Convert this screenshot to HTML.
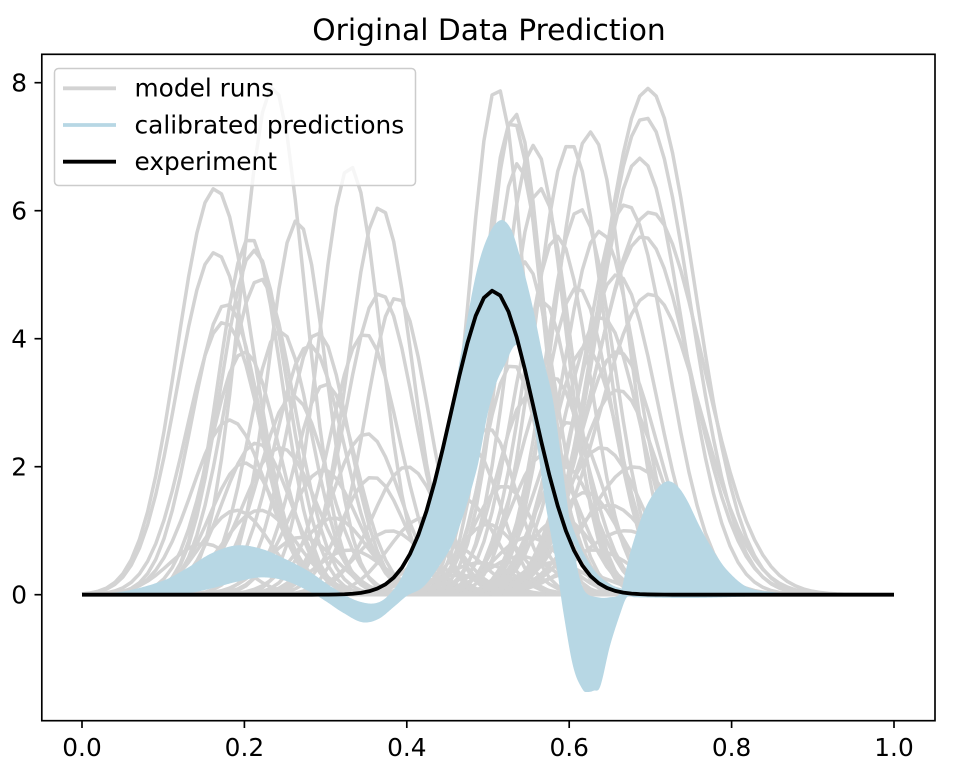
<!DOCTYPE html>
<html><head><meta charset="utf-8">
<style>
html,body{margin:0;padding:0;background:#fff;}
svg{display:block;}
text{font-family:"DejaVu Sans","Liberation Sans",sans-serif;fill:#000;}
</style></head><body>
<svg id="s" width="967" height="769" viewBox="0 0 967 769" xmlns="http://www.w3.org/2000/svg">
<rect width="967" height="769" fill="#fff"/>
<g id="gray" fill="none" stroke="#d3d3d3" stroke-width="3.5" stroke-linejoin="round"></g>
<path id="band" fill="#b7d7e4" stroke="none"/>
<path id="strip" fill="none" stroke="#b7d7e4" stroke-width="4.5" stroke-linejoin="round"/>
<path id="exp" fill="none" stroke="#000" stroke-width="3.8" stroke-linejoin="round"/>

<!-- spines -->
<rect x="41.8" y="54.3" width="893.2" height="666.4" fill="none" stroke="#000" stroke-width="1.67"/>
<!-- ticks -->
<g stroke="#000" stroke-width="1.67">
<line x1="82" y1="720.7" x2="82" y2="728"/>
<line x1="244.4" y1="720.7" x2="244.4" y2="728"/>
<line x1="406.8" y1="720.7" x2="406.8" y2="728"/>
<line x1="569.2" y1="720.7" x2="569.2" y2="728"/>
<line x1="731.6" y1="720.7" x2="731.6" y2="728"/>
<line x1="894" y1="720.7" x2="894" y2="728"/>
<line x1="34.5" y1="594.7" x2="41.8" y2="594.7"/>
<line x1="34.5" y1="466.7" x2="41.8" y2="466.7"/>
<line x1="34.5" y1="338.7" x2="41.8" y2="338.7"/>
<line x1="34.5" y1="210.7" x2="41.8" y2="210.7"/>
<line x1="34.5" y1="82.7" x2="41.8" y2="82.7"/>
</g>
<g font-size="24.8" text-anchor="middle">
<text x="82" y="756">0.0</text>
<text x="244.4" y="756">0.2</text>
<text x="406.8" y="756">0.4</text>
<text x="569.2" y="756">0.6</text>
<text x="731.6" y="756">0.8</text>
<text x="894" y="756">1.0</text>
</g>
<g font-size="24.8" text-anchor="end">
<text x="27" y="603.5">0</text>
<text x="27" y="475.5">2</text>
<text x="27" y="347.5">4</text>
<text x="27" y="219.5">6</text>
<text x="27" y="91.5">8</text>
</g>
<text x="489" y="40" font-size="29.7" text-anchor="middle">Original Data Prediction</text>

<!-- legend -->
<rect x="54.5" y="68.5" width="361" height="117" rx="4" ry="4" fill="#fff" fill-opacity="0.8" stroke="#cccccc" stroke-width="1.5"/>
<line x1="63" y1="88.3" x2="116" y2="88.3" stroke="#d3d3d3" stroke-width="3.8"/>
<line x1="63" y1="125" x2="116" y2="125" stroke="#b7d7e4" stroke-width="3.8"/>
<line x1="63" y1="161.7" x2="116" y2="161.7" stroke="#000" stroke-width="3.8"/>
<g font-size="24.8">
<text x="134.5" y="96.7">model runs</text>
<text x="134.5" y="133.4">calibrated predictions</text>
<text x="134.5" y="170.2">experiment</text>
</g>
</svg>
<script>
(function(){
var X=function(x){return 82+812*x;}, Y=function(v){return 594.7-64*v;};
var ns='http://www.w3.org/2000/svg';
var G=[
[0.164,6.35,0.066],[0.164,5.35,0.066],[0.235,7.95,0.055],[0.33,6.7,0.053],[0.367,6.06,0.055],
[0.207,5.58,0.055],[0.212,5.38,0.058],[0.265,5.85,0.05],[0.219,4.94,0.06],[0.178,4.55,0.06],
[0.175,4.26,0.065],[0.367,4.71,0.06],[0.388,4.65,0.055],[0.348,4.08,0.06],[0.244,4.13,0.055],
[0.28,3.9,0.06],[0.182,2.73,0.065],[0.215,2.37,0.06],[0.244,2.3,0.065],[0.297,1.95,0.06],
[0.358,1.84,0.055],[0.35,2.52,0.06],[0.2,2.06,0.06],[0.19,1.32,0.06],[0.219,1.32,0.065],
[0.26,3.1,0.06],[0.3,3.3,0.055],[0.31,1.2,0.06],[0.27,0.9,0.06],[0.33,0.7,0.06],
[0.38,1.0,0.06],[0.15,0.8,0.06],[0.29,4.1,0.055],[0.2,3.8,0.06],
[0.511,7.93,0.048],[0.533,7.52,0.05],[0.53,7.41,0.052],[0.556,7.02,0.055],[0.537,6.74,0.05],
[0.601,7.05,0.06],[0.626,7.23,0.062],[0.697,7.91,0.082],[0.693,7.46,0.08],[0.687,6.82,0.075],
[0.70,5.98,0.092],[0.564,6.35,0.055],[0.613,6.03,0.06],[0.638,5.68,0.065],[0.691,5.6,0.085],
[0.567,4.6,0.055],[0.70,4.7,0.088],[0.659,5.0,0.07],[0.64,4.34,0.068],[0.62,3.87,0.06],
[0.64,2.3,0.07],[0.53,3.6,0.05],[0.55,3.1,0.055],[0.58,3.4,0.06],[0.6,2.7,0.06],
[0.66,3.2,0.072],[0.68,2.0,0.08],[0.57,2.2,0.06],[0.62,1.6,0.06],[0.47,1.5,0.055],
[0.48,2.3,0.05],[0.5,1.1,0.055],[0.52,1.7,0.055],[0.45,0.8,0.06],[0.55,0.9,0.06],
[0.59,1.2,0.06],[0.63,0.7,0.07],[0.67,1.0,0.08],[0.44,0.4,0.06],[0.49,0.5,0.06],
[0.58,0.5,0.06],[0.61,4.8,0.06],[0.585,5.6,0.058],[0.67,6.1,0.072],[0.545,5.2,0.055],
[0.66,3.8,0.07],[0.595,2.0,0.055],[0.42,1.2,0.06],[0.4,2.0,0.06],[0.46,0.3,0.06],
[0.54,0.6,0.06],[0.61,0.35,0.06],[0.5,2.6,0.05],[0.65,1.4,0.07]
];
var N=100, g=document.getElementById('gray');
G.forEach(function(p){
  var d='';
  for(var i=0;i<N;i++){var x=i/(N-1);var v=p[1]*Math.exp(-Math.pow((x-p[0])/p[2],2));
    d+=(i?'L':'M')+X(x).toFixed(2)+','+Y(v).toFixed(2);}
  var e=document.createElementNS(ns,'path');e.setAttribute('d',d);g.appendChild(e);
});
function interp(P,x){
  var n=P.length; if(x<=P[0][0])return P[0][1]; if(x>=P[n-1][0])return P[n-1][1];
  var i=0; while(P[i+1][0]<x)i++;
  function m(k){
    if(k==0) return (P[1][1]-P[0][1])/(P[1][0]-P[0][0]);
    if(k==n-1) return (P[n-1][1]-P[n-2][1])/(P[n-1][0]-P[n-2][0]);
    return (P[k+1][1]-P[k-1][1])/(P[k+1][0]-P[k-1][0]);
  }
  var x0=P[i][0],x1=P[i+1][0],h=x1-x0,t=(x-x0)/h,y0=P[i][1],y1=P[i+1][1];
  var t2=t*t,t3=t2*t;
  return (2*t3-3*t2+1)*y0+(t3-2*t2+t)*h*m(i)+(-2*t3+3*t2)*y1+(t3-t2)*h*m(i+1);
}
var U=[[0,0.0],[0.05,0.05],[0.1,0.22],[0.13,0.42],[0.16,0.65],[0.19,0.77],[0.22,0.72],[0.25,0.56],[0.28,0.36],[0.31,0.1],[0.34,-0.1],[0.365,-0.12],[0.385,0.1],[0.40,0.45],[0.418,1.1],[0.435,1.9],[0.453,2.8],[0.47,4.0],[0.486,5.05],[0.50,5.6],[0.515,5.85],[0.528,5.72],[0.539,5.3],[0.555,4.5],[0.568,3.7],[0.58,3.04],[0.59,2.15],[0.597,1.48],[0.605,0.8],[0.612,0.3],[0.62,0.04],[0.635,-0.04],[0.65,-0.04],[0.663,0.03],[0.669,0.34],[0.677,0.74],[0.691,1.27],[0.705,1.6],[0.72,1.77],[0.733,1.7],[0.745,1.48],[0.761,1.06],[0.777,0.7],[0.794,0.39],[0.819,0.12],[0.851,0.04],[0.89,0.0],[1.0,0.0]];
var L=[[0,0.0],[0.05,0.0],[0.1,0.0],[0.13,0.02],[0.16,0.1],[0.19,0.2],[0.22,0.27],[0.25,0.22],[0.28,0.05],[0.30,-0.1],[0.32,-0.27],[0.345,-0.43],[0.365,-0.38],[0.385,-0.18],[0.40,-0.02],[0.42,0.12],[0.44,0.45],[0.46,0.9],[0.486,1.95],[0.50,2.85],[0.51,3.3],[0.521,3.6],[0.532,3.88],[0.54,3.85],[0.546,3.5],[0.552,3.04],[0.561,2.3],[0.570,1.48],[0.578,0.9],[0.585,0.4],[0.593,-0.29],[0.605,-1.13],[0.617,-1.49],[0.623,-1.52],[0.63,-1.5],[0.638,-1.44],[0.65,-0.81],[0.663,-0.29],[0.671,-0.04],[0.68,-0.04],[0.75,-0.05],[0.82,-0.03],[0.88,-0.01],[1.0,0.0]];
var d='', M=1000, i, x;
for(i=0;i<=M;i++){x=i/M; d+=(i?'L':'M')+X(x).toFixed(2)+','+Y(interp(U,x)).toFixed(2);}
for(i=M;i>=0;i--){x=i/M; d+='L'+X(x).toFixed(2)+','+Y(interp(L,x)).toFixed(2);}
d+='Z';
document.getElementById('band').setAttribute('d',d);
function ex(x){return 4.75*Math.exp(-Math.pow((x-0.506)/0.072,2));}
var s='';
for(i=0;i<=160;i++){x=0.54+i*(0.16/160); s+=(i?'L':'M')+X(x+0.007).toFixed(2)+','+Y(ex(x)).toFixed(2);}
document.getElementById('strip').setAttribute('d',s);
var e='';
for(i=0;i<N;i++){x=i/(N-1); e+=(i?'L':'M')+X(x).toFixed(2)+','+Y(ex(x)).toFixed(2);}
document.getElementById('exp').setAttribute('d',e);
})();
</script>
</body></html>
